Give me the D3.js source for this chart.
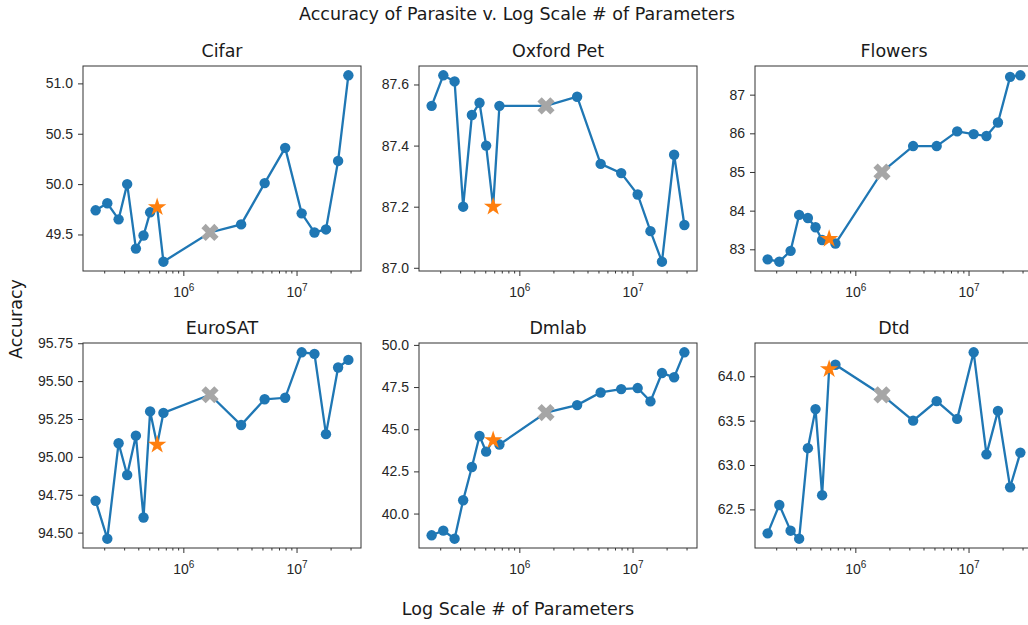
<!DOCTYPE html>
<html>
<head>
<meta charset="utf-8">
<script src="https://cdn.jsdelivr.net/npm/d3@7"></script>
<style>
  body { margin: 0; background: #fff; }
  svg { display: block; font-family: "DejaVu Sans", sans-serif; }
  .tick text { fill: #262626; }
  .tick line { stroke: #333; }
</style>
</head>
<body>
<svg id="chart" width="1028" height="625"></svg>
<script>
// Number of parameters for each run (same for every dataset)
const params = [1.68e5, 2.13e5, 2.68e5, 3.19e5, 3.81e5, 4.45e5, 5.09e5, 5.87e5, 6.67e5,
                1.72e6, 3.24e6, 5.23e6, 7.94e6, 1.11e7, 1.44e7, 1.82e7, 2.33e7, 2.87e7];

// which run gets the orange star, which gets the gray cross
const starIndex = 7;
const crossIndex = 9;

const datasets = ["Cifar", "Oxford Pet", "Flowers", "EuroSAT", "Dmlab", "Dtd"];

// Accuracy per dataset, in the order of params
const cifar    = [49.74, 49.81, 49.65, 50.00, 49.36, 49.49, 49.72, 49.77, 49.23,
                  49.52, 49.60, 50.01, 50.36, 49.71, 49.52, 49.55, 50.23, 51.08];
const oxford   = [87.53, 87.63, 87.61, 87.20, 87.50, 87.54, 87.40, 87.20, 87.53,
                  87.53, 87.56, 87.34, 87.31, 87.24, 87.12, 87.02, 87.37, 87.14];
const flowers  = [82.74, 82.68, 82.96, 83.89, 83.81, 83.57, 83.24, 83.27, 83.15,
                  85.00, 85.67, 85.67, 86.05, 85.98, 85.93, 86.28, 87.46, 87.50];
const eurosat  = [94.71, 94.46, 95.09, 94.88, 95.14, 94.60, 95.30, 95.08, 95.29,
                  95.41, 95.21, 95.38, 95.39, 95.69, 95.68, 95.15, 95.59, 95.64];
const dmlab    = [38.71, 38.99, 38.51, 40.79, 42.76, 44.60, 43.67, 44.35, 44.09,
                  45.99, 46.43, 47.18, 47.38, 47.44, 46.65, 48.33, 48.08, 49.56];
const dtd      = [62.23, 62.55, 62.26, 62.17, 63.19, 63.63, 62.66, 64.08, 64.13,
                  63.79, 63.50, 63.72, 63.52, 64.27, 63.12, 63.61, 62.75, 63.14];
const accuracies = [cifar, oxford, flowers, eurosat, dmlab, dtd];

// Tick values and labels
const xTicks = [1e6, 1e7];
const xTickExponents = ["6", "7"];
const yTicks = [
  [49.5, 50.0, 50.5, 51.0],
  [87.0, 87.2, 87.4, 87.6],
  [83, 84, 85, 86, 87],
  [94.5, 94.75, 95.0, 95.25, 95.5, 95.75],
  [40.0, 42.5, 45.0, 47.5, 50.0],
  [62.5, 63.0, 63.5, 64.0]
];
const yTickLabels = [
  ["49.5", "50.0", "50.5", "51.0"],
  ["87.0", "87.2", "87.4", "87.6"],
  ["83", "84", "85", "86", "87"],
  ["94.50", "94.75", "95.00", "95.25", "95.50", "95.75"],
  ["40.0", "42.5", "45.0", "47.5", "50.0"],
  ["62.5", "63.0", "63.5", "64.0"]
];

// Layout of the 2x3 grid
const panelW = 278, panelH = 205;
const gridLeft = 83, gridTop = 66, colStep = 336, rowStep = 277;
const blue = "#1f77b4", orange = "#ff7f0e", gray = "#a6a6a6";

const svg = d3.select("#chart");

// matplotlib style 5% padding
function padLinear(vals) {
  let lo = d3.min(vals), hi = d3.max(vals), p = (hi - lo) * 0.05;
  return [lo - p, hi + p];
}
function padLog(vals) {
  let lo = Math.log10(d3.min(vals)), hi = Math.log10(d3.max(vals)), p = (hi - lo) * 0.05;
  return [Math.pow(10, lo - p), Math.pow(10, hi + p)];
}

// Draws one subplot
function drawPanel(k) {
  let col = k % 3, row = Math.floor(k / 3);
  let g = svg.append("g")
    .attr("transform", "translate(" + (gridLeft + col * colStep) + "," + (gridTop + row * rowStep) + ")");

  let x = d3.scaleLog().domain(padLog(params)).range([0, panelW]);
  let y = d3.scaleLinear().domain(padLinear(accuracies[k])).range([panelH, 0]);
  let pts = accuracies[k].map((v, i) => [params[i], v]);

  // y axis
  let yAxis = g.append("g")
    .call(d3.axisLeft(y).tickValues(yTicks[k])
      .tickFormat((d, i) => yTickLabels[k][i])
      .tickSize(5).tickPadding(5));
  yAxis.select(".domain").remove();
  yAxis.selectAll("text").style("font-size", "14px");

  // x axis, minor ticks
  let minor = x.ticks().filter(d => xTicks.indexOf(d) < 0);
  g.append("g")
    .attr("transform", "translate(0," + panelH + ")")
    .call(d3.axisBottom(x).tickValues(minor).tickFormat("").tickSize(2.5))
    .select(".domain").remove();

  // x axis, major ticks with 10^n labels
  let xAxis = g.append("g")
    .attr("transform", "translate(0," + panelH + ")")
    .call(d3.axisBottom(x).tickValues(xTicks).tickFormat("").tickSize(5));
  xAxis.select(".domain").remove();
  xAxis.selectAll(".tick").append("text")
    .attr("y", 26)
    .attr("fill", "#262626")
    .attr("text-anchor", "middle")
    .style("font-size", "14px")
    .each(function(d, i) {
      let t = d3.select(this);
      t.append("tspan").text("10");
      t.append("tspan").attr("dy", -6).style("font-size", "10px").text(xTickExponents[i]);
    });

  // the line and its markers
  g.append("path")
    .datum(pts)
    .attr("fill", "none")
    .attr("stroke", blue)
    .attr("stroke-width", 2.3)
    .attr("d", d3.line().x(d => x(d[0])).y(d => y(d[1])));

  g.selectAll("circle")
    .data(pts.filter((d, i) => i !== starIndex && i !== crossIndex))
    .enter()
    .append("circle")
    .attr("cx", d => x(d[0]))
    .attr("cy", d => y(d[1]))
    .attr("r", 5.2)
    .attr("fill", blue);

  // gray cross
  g.append("path")
    .attr("d", d3.symbol().type(d3.symbolCross).size(185)())
    .attr("transform", "translate(" + x(params[crossIndex]) + "," + y(accuracies[k][crossIndex]) + ") rotate(45)")
    .attr("fill", gray);

  // orange star
  g.append("path")
    .attr("d", d3.symbol().type(d3.symbolStar).size(105)())
    .attr("transform", "translate(" + x(params[starIndex]) + "," + y(accuracies[k][starIndex]) + ")")
    .attr("fill", orange);

  // frame
  g.append("rect")
    .attr("width", panelW)
    .attr("height", panelH)
    .attr("fill", "none")
    .attr("stroke", "#333")
    .attr("stroke-width", 1);

  // subplot title
  g.append("text")
    .attr("x", panelW / 2)
    .attr("y", -9)
    .attr("text-anchor", "middle")
    .attr("fill", "#1a1a1a")
    .style("font-size", "17.5px")
    .text(datasets[k]);
}

for (let k = 0; k < datasets.length; k++) drawPanel(k);

// Figure title
svg.append("text")
  .attr("x", 517)
  .attr("y", 20)
  .attr("text-anchor", "middle")
  .attr("fill", "#1a1a1a")
  .style("font-size", "17.5px")
  .text("Accuracy of Parasite v. Log Scale # of Parameters");

// shared x label
svg.append("text")
  .attr("x", 518)
  .attr("y", 615)
  .attr("text-anchor", "middle")
  .attr("fill", "#1a1a1a")
  .style("font-size", "17.5px")
  .text("Log Scale # of Parameters");

// shared y label
svg.append("text")
  .attr("transform", "translate(22,319) rotate(-90)")
  .attr("text-anchor", "middle")
  .attr("fill", "#1a1a1a")
  .style("font-size", "17.5px")
  .text("Accuracy");
</script>
</body>
</html>
